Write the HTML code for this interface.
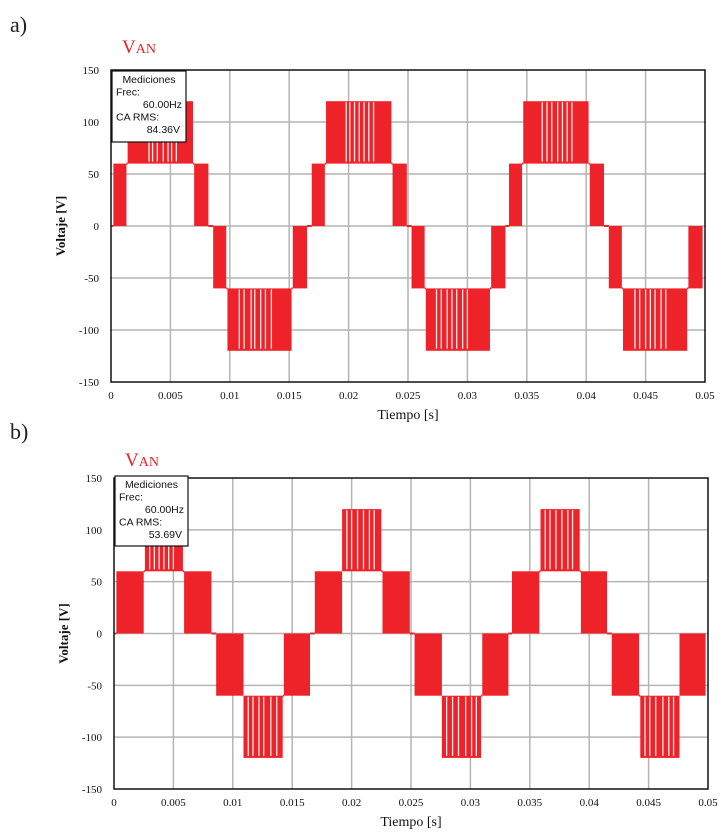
<!DOCTYPE html>
<html><head><meta charset="utf-8">
<style>
html,body{margin:0;padding:0;background:#fff;}
svg{display:block;}
text{font-family:"Liberation Serif",serif;}
</style></head>
<body>
<svg id="s" width="723" height="839" viewBox="0 0 723 839" xmlns="http://www.w3.org/2000/svg">
<text x="10" y="32" font-size="22" fill="#222">a)</text>
<text x="122" y="53" font-size="19" fill="#e8222a">V<tspan font-size="14">AN</tspan></text>
<text x="10" y="439" font-size="22" fill="#222">b)</text>
<text x="125" y="466" font-size="19" fill="#e8222a">V<tspan font-size="14">AN</tspan></text>
</svg>
<script>
// ---- data ----
const xTicks = [0,0.005,0.01,0.015,0.02,0.025,0.03,0.035,0.04,0.045,0.05];
const xTickLabels = ["0","0.005","0.01","0.015","0.02","0.025","0.03","0.035","0.04","0.045","0.05"];
const yTicks = [150,100,50,0,-50,-100,-150];
const yTickLabels = ["150","100","50","0","-50","-100","-150"];
// switching bands: [tStart, tEnd, lowLevel, highLevel]
const bandsA = [
 [0.0002,0.0013,0,60],[0.0014,0.0069,60,120],[0.0070,0.0082,0,60],[0.0086,0.0097,-60,0],[0.0098,0.0152,-120,-60],[0.0153,0.0165,-60,0],
 [0.0169,0.0180,0,60],[0.0181,0.0236,60,120],[0.0237,0.0249,0,60],[0.0253,0.0264,-60,0],[0.0265,0.0319,-120,-60],[0.0320,0.0332,-60,0],
 [0.0335,0.0346,0,60],[0.0347,0.0402,60,120],[0.0403,0.0415,0,60],[0.0419,0.0430,-60,0],[0.0431,0.0485,-120,-60],[0.0486,0.0498,-60,0]
];
const gapsA = [0.0032,0.0035,0.0039,0.0044,0.0048,0.0051,0.0055,0.0108,0.0112,0.0118,0.0121,0.0126,0.0130,0.0135,
 0.0198,0.0201,0.0205,0.0209,0.0213,0.0217,0.0221,0.0274,0.0278,0.0283,0.0287,0.0291,0.0296,0.0300,
 0.0363,0.0367,0.0371,0.0376,0.0380,0.0384,0.0388,0.0441,0.0445,0.0450,0.0454,0.0458,0.0463,0.0467];
const bandsB = [
 [0.0002,0.0025,0,60],[0.0026,0.0058,60,120],[0.0059,0.0082,0,60],[0.0086,0.0109,-60,0],[0.0109,0.0142,-120,-60],[0.0143,0.0165,-60,0],
 [0.0169,0.0192,0,60],[0.0192,0.0225,60,120],[0.0226,0.0249,0,60],[0.0253,0.0276,-60,0],[0.0276,0.0309,-120,-60],[0.0310,0.0332,-60,0],
 [0.0335,0.0358,0,60],[0.0359,0.0392,60,120],[0.0393,0.0415,0,60],[0.0419,0.0442,-60,0],[0.0443,0.0476,-120,-60],[0.0476,0.0498,-60,0]
];
const gapsB = [0.0030,0.0034,0.0038,0.0042,0.0046,0.0050,0.0113,0.0117,0.0122,0.0126,0.0132,0.0137,
 0.0196,0.0200,0.0205,0.0210,0.0215,0.0219,0.0280,0.0285,0.0290,0.0296,0.0301,0.0305,
 0.0363,0.0367,0.0372,0.0377,0.0382,0.0386,0.0447,0.0451,0.0456,0.0462,0.0467,0.0471];

const NS="http://www.w3.org/2000/svg";
const svg=document.getElementById('s');
function mk(tag,attrs,parent){const e=document.createElementNS(NS,tag);for(const k in attrs)e.setAttribute(k,attrs[k]);(parent||svg).appendChild(e);return e;}

function drawPlot(id,L,T,R,B,bands,gaps,meas,box){
  const g=mk('g',{});
  
  
  const X=t=>L+(t-0)/(0.05)*(R-L);
  const Y=v=>T+(150-v)/300*(B-T);
  // grid
  xTicks.forEach((t,i)=>{
    if(i>0&&i<xTicks.length-1){const l=mk('line',{x1:X(t),x2:X(t),y1:T,y2:B,stroke:'#b4b4b4','stroke-width':1.5},g);
    
    }
    const tx=mk('text',{x:X(t),y:B+17,'font-size':11,'text-anchor':'middle',fill:'#111'},g);
    tx.textContent=xTickLabels[i];
    
    
  });
  yTicks.forEach((v,i)=>{
    if(i>0&&i<yTicks.length-1){const l=mk('line',{x1:L,x2:R,y1:Y(v),y2:Y(v),stroke:'#b4b4b4','stroke-width':1.5},g);
    
    }
    const tx=mk('text',{x:L-12,y:Y(v)+4,'font-size':11,'text-anchor':'end',fill:'#111'},g);
    tx.textContent=yTickLabels[i];
    
    
  });
  // series
  const sg=mk('g',{},g);
  
  
  let prevEnd=0, prevLvl=0;
  bands.forEach((b,i)=>{
    const lvl = (i===0)?0:([b[2],b[3]].find(v=>v===bands[i-1][2]||v===bands[i-1][3]));
    const ln=mk('line',{x1:X(prevEnd),x2:X(b[0]),y1:Y(lvl),y2:Y(lvl),stroke:'#ee2229','stroke-width':2},sg);
    
    
    const r=mk('rect',{x:X(b[0]),y:Y(b[3]),width:Math.max(1,X(b[1])-X(b[0])),height:Y(b[2])-Y(b[3]),fill:'#ee2229'},sg);
    
    
    prevEnd=b[1];
  });
  gaps.forEach(t=>{
    const b=bands.find(bb=>t>=bb[0]&&t<=bb[1]);
    if(!b)return;
    const l=mk('line',{x1:X(t),x2:X(t),y1:Y(b[3])+1,y2:Y(b[2])-2,stroke:'#fff','stroke-width':1.3,opacity:0.9},sg);
    
    
  });
  // frame
  const fr=mk('rect',{x:L,y:T,width:R-L,height:B-T,fill:'none',stroke:'#111','stroke-width':1.5},g);
  
  
  // axis titles
  const xt=mk('text',{x:(L+R)/2,y:B+37,'font-size':14,'text-anchor':'middle',fill:'#111'},g);
  xt.textContent='Tiempo [s]';
  
  
  const yt=mk('text',{x:0,y:0,'font-size':13,'font-weight':'bold','text-anchor':'middle',fill:'#111',transform:`translate(${L-46},${(T+B)/2}) rotate(-90)`},g);
  yt.textContent='Voltaje [V]';
  
  
  // measurements box
  const mg=mk('g',{},g);
  
  
  mk('rect',{x:box[0],y:box[1],width:box[2],height:box[3],fill:'#fff',stroke:'#111','stroke-width':1.2},mg);
  const lines=[['Mediciones',box[0]+box[2]/2,'middle'],['Frec:',box[0]+4,'start'],['60.00Hz',box[0]+box[2]-4,'end'],['CA RMS:',box[0]+4,'start'],[meas,box[0]+box[2]-6,'end']];
  lines.forEach((ln,i)=>{
    const t=mk('text',{x:ln[1],y:box[1]+12+i*12.5,'font-size':10.5,'text-anchor':ln[2],fill:'#111',style:'font-family:"Liberation Sans",sans-serif'},mg);
    t.textContent=ln[0];
    
    
  });
}
drawPlot('a',111,70,705,382,bandsA,gapsA,'84.36V',[112,71,74,71]);
drawPlot('b',114,478,708,789,bandsB,gapsB,'53.69V',[115,476,73,70]);
</script>
</body></html>
